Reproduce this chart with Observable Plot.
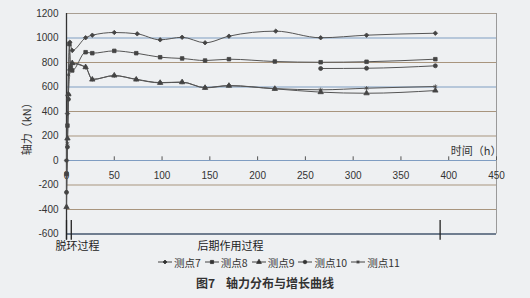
<!DOCTYPE html>
<html><head><meta charset="utf-8">
<script src="https://cdn.jsdelivr.net/npm/d3@7"></script>
<script src="https://cdn.jsdelivr.net/npm/@observablehq/plot@0.6"></script>
<style>
body{margin:0;background:#eef0f2;width:530px;height:298px;overflow:hidden;font-family:"Noto Sans CJK SC",sans-serif;}
#legend{height:20px;display:flex;align-items:center;padding-left:157px;font-size:10.5px;color:#333;}
.item{display:flex;align-items:center;margin-right:3px}
.item svg{margin-right:1px}
#caption{height:22px;text-align:center;font-size:12px;font-weight:bold;color:#333;line-height:22px;padding-left:0px}
</style></head><body>
<div id="chart"></div><div id="legend"></div><div id="caption">图7&nbsp;&nbsp;&nbsp;&nbsp;轴力分布与增长曲线</div>
<script>
const seriesNames = ["测点7","测点8","测点9","测点10","测点11"];
const t7 = [0, 1, 2, 3.5, 6, 20, 27, 50, 74, 98, 121, 145, 170, 219, 266, 314, 386];
const v7 = [0, 383, 540, 966, 898, 1002, 1023, 1045, 1034, 985, 1006, 961, 1015, 1056, 1002, 1023, 1039];
const t8 = [0, 1, 3, 4.5, 6, 20, 27, 50, 73, 98, 121, 145, 170, 218, 266, 314, 386];
const v8 = [-110, 285, 950, 760, 735, 884, 876, 895, 876, 843, 833, 816, 827, 808, 802, 806, 827];
const t9 = [0, 1, 2, 4, 6, 20, 27, 50, 73, 98, 121, 145, 170, 218, 266, 314, 386];
const v9 = [-380, 180, 540, 750, 795, 762, 661, 694, 661, 634, 639, 593, 610, 585, 558, 549, 571];
const t10 = [0, 1, 2, 3, 266, 314, 386];
const v10 = [-260, 110, 500, null, 751, 753, 773];
const t11 = [0, 1, 2, 4, 6, 20, 27, 50, 73, 98, 121, 145, 170, 218, 266, 314, 386];
const v11 = [0, 140, 700, 740, 790, 760, 662, 692, 663, 636, 640, 595, 612, 587, 577, 590, 604];

const xTicks = [0, 50, 100, 150, 200, 250, 300, 350, 400, 450];
const yTicks = [-600, -400, -200, 0, 200, 400, 600, 800, 1000, 1200];
const tanLevels = [800, 400, 200, -200, -400];
const blueLevels = [1000, 600, 0];
const breakTimes = [0, 5, 391];
const phaseLabels = [{t: 11.5, text: "脱环过程"}, {t: 171.5, text: "后期作用过程"}];
const symbols = ["diamond2", "square", "triangle", "circle", "asterisk"];

const ts = [t7, t8, t9, t10, t11], vs = [v7, v8, v9, v10, v11];
const data = [];
seriesNames.forEach((s, i) => ts[i].forEach((t, j) => data.push({series: s, t, v: vs[i][j], sym: symbols[i]})));
const pts = data.filter(d => d.v != null);

const chart = Plot.plot({
  width: 530, height: 252,
  marginLeft: 66, marginRight: 34, marginTop: 13, marginBottom: 18.5,
  x: {domain: [0, 450], axis: null},
  y: {domain: [-600, 1200], axis: null},
  symbol: {domain: symbols, range: symbols},
  style: {background: "transparent", fontFamily: "'Liberation Sans', sans-serif", fontSize: "10px", color: "#333"},
  marks: [
    Plot.ruleY(tanLevels, {stroke: "#a8957e", strokeWidth: 1}),
    Plot.ruleY(blueLevels, {stroke: "#7f9dc2", strokeWidth: 1.1}),
    Plot.ruleY([1200], {stroke: "#a89e92", strokeWidth: 1}),
    Plot.ruleY([-600], {stroke: "#44576e", strokeWidth: 1.3}),
    Plot.ruleX([450], {y1: -600, y2: 1200, stroke: "#9a9a9a", strokeWidth: 1}),
    Plot.ruleX([0], {y1: -650, y2: 1200, stroke: "#333", strokeWidth: 1.3}),
    Plot.ruleX(breakTimes, {y1: -490, y2: -650, stroke: "#222", strokeWidth: 1.3}),
    Plot.ruleX(xTicks.filter(d => d > 0), {y1: 0, y2: 30, stroke: "#555"}),
    Plot.text(xTicks, {x: d => d, y: 0, dy: 15, text: d => String(d), fill: "#333"}),
    Plot.text(yTicks, {x: 0, y: d => d, dx: -8, textAnchor: "end", text: d => String(d), fill: "#333"}),
    Plot.text(["轴力（kN）"], {x: 0, y: 280, dx: -39, rotate: -90, fontFamily: "'Noto Sans CJK SC'", fontSize: 11, fill: "#333"}),
    Plot.text(["时间（h）"], {x: 450, y: 0, dy: -9, dx: 5, textAnchor: "end", fontFamily: "'Noto Sans CJK SC'", fontSize: 11, fill: "#333"}),
    Plot.text(phaseLabels, {x: "t", y: -702, text: "text", fontFamily: "'Noto Sans CJK SC'", fontSize: 11, fill: "#222"}),
    Plot.line(data, {x: "t", y: "v", z: "series", curve: "monotone-x", stroke: "#555", strokeWidth: 1}),
    Plot.dot(pts, {x: "t", y: "v", symbol: "sym", r: 2, fill: "#444", stroke: "#444", strokeWidth: 0.8})
  ]
});
document.getElementById("chart").appendChild(chart);

const legend = document.getElementById("legend");
seriesNames.forEach((s, i) => {
  const item = document.createElement("div");
  item.className = "item";
  const sym = d3.symbol().type({diamond2: d3.symbolDiamond2, square: d3.symbolSquare, triangle: d3.symbolTriangle, circle: d3.symbolCircle, asterisk: d3.symbolAsterisk}[symbols[i]]).size(10)();
  item.innerHTML = `<svg width="16" height="10"><line x1="1" x2="15" y1="5" y2="5" stroke="#444" stroke-width="1"/><path d="${sym}" transform="translate(8,5)" fill="#333" stroke="#333" stroke-width="0.8"/></svg><span>${s}</span>`;
  legend.appendChild(item);
});
</script>
</body></html>
